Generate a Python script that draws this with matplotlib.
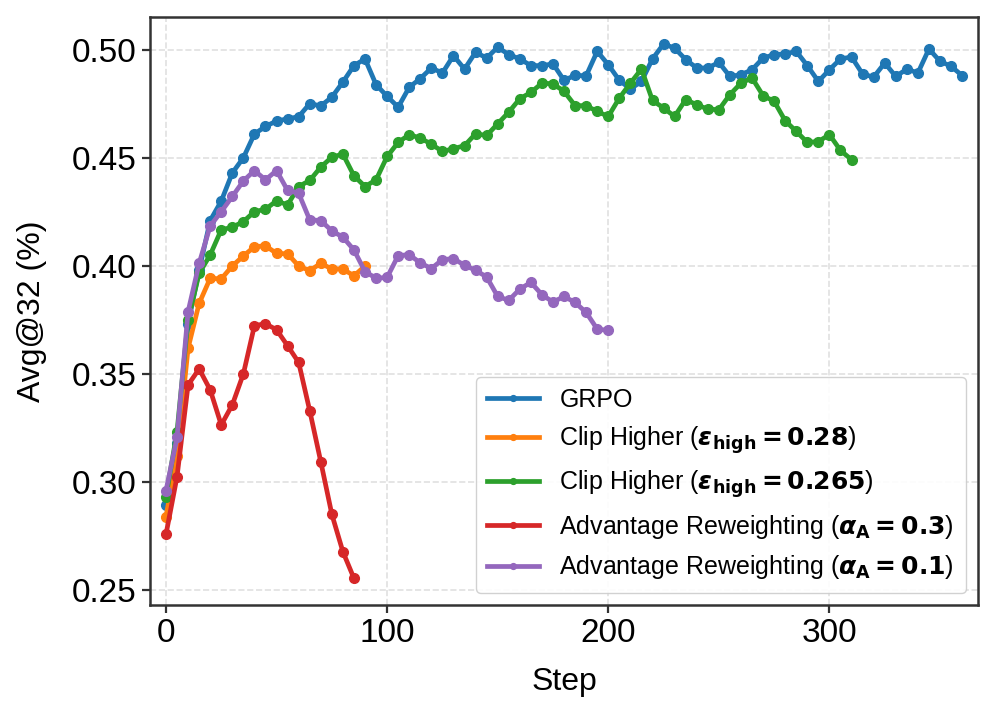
import numpy as np
import matplotlib
matplotlib.use("Agg")
import matplotlib.pyplot as plt

plt.rcParams['font.family'] = ['Liberation Sans', 'DejaVu Sans']
plt.rcParams['mathtext.fontset'] = 'custom'
plt.rcParams['mathtext.rm'] = 'DejaVu Sans'
plt.rcParams['mathtext.it'] = 'DejaVu Sans:italic'
plt.rcParams['mathtext.bf'] = 'DejaVu Sans:bold'
plt.rcParams['mathtext.bfit'] = 'DejaVu Sans:italic:bold'

grpo_steps = list(range(0, 361, 5))
grpo = [0.2895, 0.318, 0.3733, 0.398, 0.421, 0.430, 0.443, 0.450, 0.461, 0.4645,
        0.467, 0.468, 0.469, 0.475, 0.474, 0.478, 0.485, 0.4926, 0.4957, 0.4838,
        0.4784, 0.4734, 0.4826, 0.4866, 0.4915, 0.4892, 0.4972, 0.491, 0.4988, 0.4961,
        0.5011, 0.4977, 0.4957, 0.4926, 0.4926, 0.4934, 0.4858, 0.4881, 0.4879, 0.4992,
        0.493, 0.4858, 0.4818, 0.4853, 0.4957, 0.5026, 0.5007, 0.4954, 0.4915, 0.4915,
        0.4941, 0.4876, 0.4884, 0.4907, 0.4961, 0.4977, 0.498, 0.4992, 0.4926, 0.4853,
        0.4907, 0.4957, 0.4966, 0.4887, 0.4873, 0.4938, 0.4876, 0.491, 0.4892, 0.5003,
        0.4946, 0.4923, 0.488]

clip028_steps = list(range(0, 91, 5))
clip028 = [0.2841, 0.312, 0.362, 0.3827, 0.3943, 0.394, 0.400, 0.4046, 0.4089, 0.4093,
           0.4058, 0.4056, 0.400, 0.3978, 0.4012, 0.3986, 0.3986, 0.3954, 0.400]

clip0265_steps = list(range(0, 311, 5))
clip0265 = [0.2932, 0.3234, 0.3751, 0.3966, 0.4051, 0.4167, 0.4179, 0.4205, 0.4251, 0.4262,
            0.4301, 0.4282, 0.4367, 0.4395, 0.4457, 0.4503, 0.4517, 0.4417, 0.4367, 0.4398,
            0.4506, 0.4571, 0.4607, 0.4591, 0.4563, 0.4529, 0.4542, 0.4556, 0.4611, 0.4603,
            0.4657, 0.4711, 0.4773, 0.4802, 0.4845, 0.4842, 0.4807, 0.4741, 0.4741, 0.4714,
            0.4691, 0.4776, 0.4845, 0.491, 0.4765, 0.473, 0.4691, 0.4769, 0.4745, 0.4725,
            0.4722, 0.4792, 0.4845, 0.4869, 0.4787, 0.4761, 0.4671, 0.4622, 0.4571, 0.4575,
            0.4607, 0.4534, 0.4491]

adv03_steps = list(range(0, 86, 5))
adv03 = [0.2759, 0.3026, 0.345, 0.3524, 0.3427, 0.3265, 0.3358, 0.3501, 0.3724, 0.3733,
         0.3705, 0.3631, 0.3554, 0.3331, 0.3095, 0.2852, 0.2679, 0.2556]

adv01_steps = list(range(0, 201, 5))
adv01 = [0.2961, 0.3208, 0.3789, 0.4012, 0.4185, 0.4251, 0.4321, 0.4393, 0.4441, 0.4398,
         0.4441, 0.4349, 0.4336, 0.4213, 0.421, 0.4162, 0.4133, 0.4074, 0.3974, 0.3943,
         0.3947, 0.4048, 0.4052, 0.4014, 0.3988, 0.4029, 0.4034, 0.4003, 0.398, 0.3949,
         0.3859, 0.3841, 0.3893, 0.3924, 0.3867, 0.3833, 0.3859, 0.3831, 0.3785, 0.3708,
         0.3702]

labels = [
    'GRPO',
    r'Clip Higher ($\mathbfit{\varepsilon}_{\mathbf{high}}\mathbf{=0.28}$)',
    r'Clip Higher ($\mathbfit{\varepsilon}_{\mathbf{high}}\mathbf{=0.265}$)',
    r'Advantage Reweighting ($\mathbfit{\alpha}_{\mathbf{A}}\mathbf{=0.3}$)',
    r'Advantage Reweighting ($\mathbfit{\alpha}_{\mathbf{A}}\mathbf{=0.1}$)',
]
colors = ['#1f77b4', '#ff7f0e', '#2ca02c', '#d62728', '#9467bd']

series = [(grpo_steps, grpo), (clip028_steps, clip028), (clip0265_steps, clip0265),
          (adv03_steps, adv03), (adv01_steps, adv01)]

fig = plt.figure(figsize=(9.97, 7.19), dpi=100)
ax = fig.add_axes([0.1505, 0.1585, 0.8305, 0.8175])

for (xs, ys), lab, c in zip(series, labels, colors):
    ax.plot(xs, ys, color=c, lw=3.4, marker='o', ms=7.0, label=lab)

ax.margins(x=0.02, y=0.05)
ax.grid(True, ls='--', color='#d9d9d9', lw=1.2, alpha=0.8)
ax.set_axisbelow(True)
ax.set_xticks([0, 100, 200, 300])
ax.set_yticks([0.25, 0.30, 0.35, 0.40, 0.45, 0.50])
ax.set_yticklabels(['0.25', '0.30', '0.35', '0.40', '0.45', '0.50'])
ax.tick_params(labelsize=24, width=1.6, length=6, color='#333333')
for s in ax.spines.values():
    s.set_linewidth(1.8)
    s.set_color('#333333')
ax.set_xlabel('Step', fontsize=23, labelpad=13)
ax.set_ylabel('Avg@32 (%)', fontsize=23, labelpad=18)

leg = ax.legend(loc='lower right', fontsize=18, handlelength=2.1, markerscale=0.6,
                framealpha=0.9, borderpad=0.45, labelspacing=0.5, handletextpad=0.8,
                borderaxespad=0.5)

fig.savefig('out.png', dpi=100)
